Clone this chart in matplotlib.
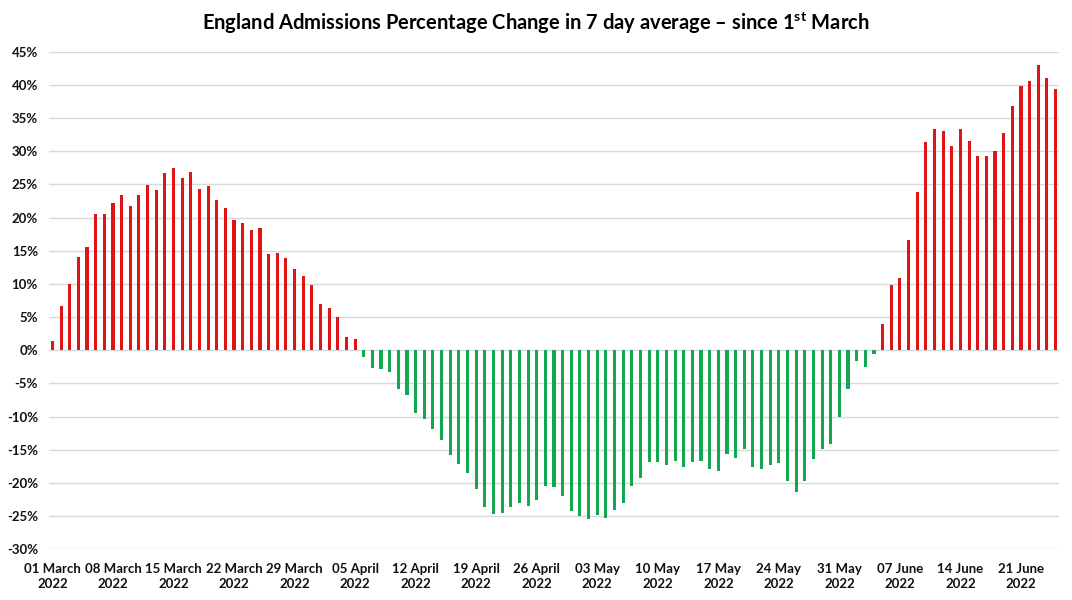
import matplotlib
matplotlib.use('Agg')
import matplotlib.pyplot as plt
import pandas as pd

plt.rcParams['font.family'] = ['Lato', 'DejaVu Sans']
plt.rcParams['mathtext.fontset'] = 'custom'
plt.rcParams['mathtext.rm'] = 'Lato:bold'
plt.rcParams['mathtext.default'] = 'rm'

# % change in 7 day average of admissions, one value per day from 1 March 2022
march = [1.35, 6.65, 10.0, 14.05, 15.55, 20.6, 20.5, 22.15, 23.35, 21.8,
         23.4, 24.95, 24.15, 26.7, 27.45, 25.95, 26.9, 24.25, 24.8, 22.65,
         21.45, 19.6, 19.2, 18.1, 18.45, 14.55, 14.65, 13.95, 12.3, 11.25, 9.9]
april = [7.0, 6.3, 4.95, 1.95, 1.75, -1.0, -2.6, -2.75, -3.3, -5.8,
         -6.8, -9.45, -10.3, -11.85, -13.6, -15.8, -17.1, -18.5, -20.85, -23.6,
         -24.65, -24.5, -23.6, -23.0, -23.45, -22.55, -20.5, -20.6, -21.95, -24.3]
may = [-24.95, -25.4, -24.85, -25.25, -24.1, -22.95, -20.45, -19.3, -16.9, -16.8,
       -17.3, -16.7, -17.6, -16.9, -16.7, -17.9, -18.15, -15.7, -16.2, -14.95,
       -17.55, -17.95, -17.25, -16.95, -19.75, -21.35, -19.75, -16.35, -14.95, -14.1,
       -10.05]
june = [-5.85, -1.6, -2.55, -0.5, 3.9, 9.9, 10.9, 16.6, 23.8, 31.4,
        33.3, 33.0, 30.85, 33.4, 31.55, 29.25, 29.25, 30.1, 32.75, 36.8,
        39.8, 40.65, 43.0, 41.05, 39.45]

values = march + april + may + june
dates = pd.date_range('2022-03-01', periods=len(values), freq='D')
x = list(range(1, len(values) + 1))
colors = ['#E01414' if v >= 0 else '#12A84F' for v in values]

fig = plt.figure(figsize=(10.72, 6), dpi=100)
ax = fig.add_axes([49 / 1072, 1 - 549.3 / 600, 1010 / 1072, (549.3 - 51.7) / 600])

ax.bar(x, values, width=0.36, color=colors, zorder=3)

ax.set_ylim(-30, 45)
ax.set_yticks(range(-30, 50, 5))
ax.set_yticklabels([f'{t}%' for t in range(-30, 50, 5)])
ax.set_xlim(0.6, 117.4)

tick_pos = x[::7]
ax.set_xticks(tick_pos)
ax.set_xticklabels([d.strftime('%d %B\n%Y') for d in dates[::7]])

ax.grid(axis='y', color='#D9D9D9', linewidth=1, zorder=0)
for s in ax.spines.values():
    s.set_visible(False)
ax.tick_params(length=0, labelsize=9.5)
ax.tick_params(axis='y', pad=8)
ax.tick_params(axis='x', pad=10)
for lab in ax.get_xticklabels() + ax.get_yticklabels():
    lab.set_fontweight('bold')
    lab.set_color('#111111')
for lab in ax.get_xticklabels():
    lab.set_linespacing(1.25)

fig.text(0.5, 1 - 23 / 600, 'England Admissions Percentage Change in 7 day average \u2013 since 1$^{st}$ March',
         ha='center', va='center', fontsize=14.5, fontweight='bold', color='#000000')

fig.savefig('out.png', dpi=100)
